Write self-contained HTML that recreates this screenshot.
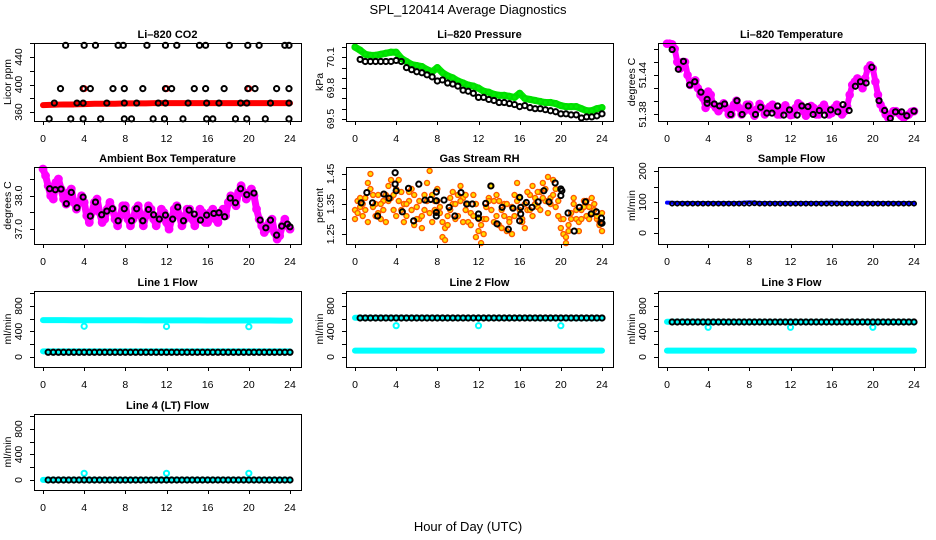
<!DOCTYPE html>
<html><head><meta charset="utf-8"><style>
html,body{margin:0;padding:0;background:#fff;}
svg{display:block;font-family:"Liberation Sans",sans-serif;}
</style></head><body>
<svg id="chart" width="936" height="540" viewBox="0 0 936 540" xmlns="http://www.w3.org/2000/svg">
<text x="468" y="14" text-anchor="middle" font-size="13">SPL_120414  Average Diagnostics</text>
<text x="468" y="531" text-anchor="middle" font-size="13">Hour of Day (UTC)</text>
</svg>
<script>
// ---------- data ----------
const qHours = Array.from({length:97},(_,i)=>i/4);
const halfHours0 = Array.from({length:49},(_,i)=>i/2);
const halfHours = Array.from({length:48},(_,i)=>0.5+i/2);
const hourly = Array.from({length:25},(_,i)=>i);
const xTicks = [0,4,8,12,16,20,24];

// CO2
const co2BlackHours = [2.2,4,5.1,7.3,7.8,10.1,11.9,13,15.2,15.8,18.1,19.9,21,23.5,23.9,
 1.7,3.9,4.6,6.8,7.9,9.7,11.9,12.5,14.7,15.8,17.6,19.9,20.6,22.7,23.9,
 1.1,3.3,3.9,6.2,7.9,9.1,11.2,11.9,14.1,15.9,17.1,19.2,19.8,22.1,23.9,
 0.6,2.7,3.9,5.6,7.9,8.6,10.7,11.8,13.6,15.9,16.5,18.7,19.8,21.6,23.9];
const co2BlackValues = [457,457,457,457,457,457,457,457,457,457,457,457,457,457,457,
 394,394,394,394,394,394,394,394,394,394,394,394,394,394,394,
 373,373,373,373,373,373,373,373,373,373,373,373,373,373,373,
 350,350,350,350,350,350,350,350,350,350,350,350,350,350,350];
const co2RedValues = [370,370.5,371,371,371.5,372,372,372,372.5,372.5,372.5,373,373,373,373,373,373,373,373,373,373,373,373,373,373];
const co2SpikeHours = [4,12,20];
const co2SpikeValues = [394,394,394];

// Pressure
const presGreen = [70.20,70.17,70.13,70.12,70.12,70.13,70.14,70.15,70.15,70.09,70.06,70.03,70.02,70.01,69.98,69.96,70.0,69.95,69.92,69.9,69.87,69.85,69.83,69.82,69.80,69.77,69.76,69.74,69.73,69.73,69.72,69.71,69.75,69.7,69.69,69.68,69.67,69.66,69.66,69.65,69.63,69.62,69.62,69.62,69.6,69.58,69.58,69.6,69.61];
const presBlack = [70.08,70.06,70.06,70.06,70.06,70.06,70.06,70.07,70.06,70.0,69.98,69.96,69.95,69.93,69.91,69.87,69.88,69.85,69.84,69.82,69.78,69.77,69.75,69.71,69.71,69.69,69.68,69.66,69.66,69.65,69.64,69.62,69.63,69.61,69.6,69.6,69.59,69.58,69.57,69.55,69.55,69.54,69.54,69.51,69.52,69.52,69.53,69.55];

// Li-820 temperature
const ltMagenta = [51.488,51.488,51.487,51.48,51.46,51.45,51.46,51.46,51.44,51.425,51.43,51.432,51.42,51.41,51.405,51.39,51.415,51.41,51.395,51.39,51.385,51.39,51.397,51.39,51.38,51.38,51.395,51.401,51.39,51.38,51.385,51.395,51.395,51.385,51.378,51.388,51.396,51.39,51.38,51.384,51.392,51.395,51.387,51.38,51.38,51.39,51.394,51.386,51.379,51.38,51.39,51.397,51.394,51.385,51.378,51.386,51.393,51.39,51.38,51.38,51.39,51.395,51.388,51.38,51.382,51.39,51.395,51.388,51.38,51.385,51.392,51.41,51.425,51.43,51.435,51.43,51.42,51.435,51.45,51.455,51.45,51.43,51.41,51.395,51.388,51.38,51.375,51.38,51.385,51.385,51.382,51.378,51.375,51.378,51.38,51.384,51.385];
const ltBlackHours = [0.5,1.1,1.6,2.2,2.7,3.3,3.9,3.9,4.6,5.1,5.6,6.2,6.8,7.3,7.9,8.6,9.1,9.7,10.2,10.75,11.35,11.9,12.65,13.1,13.7,14.2,14.8,15.3,15.9,16.6,17.1,17.7,18.3,18.8,19.35,19.9,20.6,21.15,21.7,22.2,22.8,23.3,24];
const ltBlackValues = [51.479,51.449,51.461,51.425,51.43,51.414,51.403,51.397,51.396,51.393,51.396,51.38,51.401,51.38,51.393,51.38,51.391,51.382,51.382,51.393,51.379,51.387,51.379,51.393,51.392,51.38,51.386,51.379,51.387,51.384,51.395,51.386,51.423,51.43,51.428,51.452,51.401,51.386,51.374,51.384,51.384,51.378,51.385];

// Ambient box temperature
const ambMagenta = [38.8,38.6,38.3,38.0,37.9,38.4,38.5,38.2,37.9,37.75,38.1,38.2,37.8,37.6,37.8,38.0,37.8,37.4,37.2,37.5,37.8,37.9,37.5,37.2,37.3,37.6,37.8,37.6,37.3,37.1,37.4,37.7,37.7,37.3,37.1,37.3,37.6,37.7,37.4,37.1,37.4,37.7,37.6,37.3,37.1,37.3,37.6,37.5,37.2,37.0,37.3,37.6,37.7,37.4,37.1,37.3,37.6,37.6,37.3,37.1,37.3,37.6,37.5,37.2,37.2,37.5,37.6,37.3,37.2,37.5,37.6,37.4,37.8,38.0,37.8,37.7,38.1,38.3,38.1,37.9,38.0,38.2,38.0,37.6,37.3,37.1,36.9,37.0,37.2,37.3,36.9,36.7,36.8,37.1,37.3,37.1,37.0];
const ambBlackHours = [0.65,1.2,1.75,2.27,2.75,3.3,3.9,4.6,5.1,5.7,6.2,6.75,7.3,7.9,8.6,9.1,9.7,10.25,10.75,11.3,11.9,12.6,13.1,13.65,14.2,14.7,15.3,15.9,16.6,17.1,17.65,18.2,18.7,19.2,19.8,20.5,21.1,21.65,22.1,22.7,23.2,23.75,24];
const ambBlackValues = [38.21,38.18,38.2,37.76,38.1,37.64,37.96,37.39,37.81,37.43,37.54,37.61,37.25,37.61,37.25,37.61,37.25,37.59,37.43,37.3,37.42,37.3,37.66,37.25,37.57,37.45,37.27,37.42,37.47,37.49,37.37,37.93,37.79,38.21,38.03,38.08,37.27,37.04,37.27,36.82,37.09,37.15,37.07];

// Gas stream RH
const rhA = [1.33,1.36,1.34,1.31,1.37,1.42,1.45,1.38,1.35,1.32,1.30,1.36,1.38,1.41,1.37,1.33,1.40,1.43,1.39,1.35,1.31,1.36,1.40,1.38,1.34,1.30,1.27,1.33,1.42,1.46,1.38,1.33,1.36,1.34,1.24,1.27,1.31,1.37,1.35,1.30,1.38,1.41,1.37,1.33,1.29,1.32,1.38,1.35,1.26,1.22,1.30,1.34,1.37,1.41,1.36,1.31,1.28,1.33,1.35,1.26,1.30,1.34,1.38,1.42,1.37,1.30,1.27,1.33,1.38,1.41,1.37,1.34,1.39,1.42,1.36,1.32,1.37,1.43,1.40,1.36,1.30,1.25,1.22,1.28,1.32,1.35,1.30,1.26,1.33,1.36,1.31,1.34,1.37,1.33,1.30,1.29,1.32];
const rhB = [1.30,1.32,1.37,1.35,1.33,1.29,1.40,1.34,1.31,1.38,1.35,1.33,1.29,1.36,1.43,1.38,1.31,1.36,1.33,1.29,1.35,1.39,1.33,1.28,1.30,1.36,1.31,1.38,1.36,1.32,1.29,1.36,1.40,1.32,1.29,1.23,1.28,1.33,1.39,1.35,1.31,1.36,1.29,1.38,1.35,1.28,1.31,1.24,1.30,1.28,1.25,1.30,1.36,1.33,1.29,1.38,1.36,1.27,1.31,1.35,1.29,1.25,1.31,1.36,1.33,1.29,1.35,1.39,1.33,1.31,1.35,1.39,1.33,1.37,1.40,1.44,1.35,1.38,1.34,1.31,1.27,1.30,1.24,1.26,1.30,1.37,1.33,1.29,1.30,1.34,1.36,1.30,1.32,1.35,1.31,1.28,1.26];
const rhBlackHours = [0.6,1.15,1.7,2.2,2.8,3.3,3.9,3.9,4.0,4.6,5.2,5.7,6.2,6.8,7.35,7.9,7.9,7.9,7.9,8.65,9.15,9.7,10.3,10.85,11.4,12,12,12.7,13.2,13.8,14.3,14.9,15.35,16,16,16.1,16.1,16.65,17.2,17.8,18.35,18.85,19.45,20,20,20.1,20.7,21.3,21.8,22.4,22.95,23.45,23.95,24,23.9];
const rhBlackValues = [1.354,1.388,1.354,1.31,1.383,1.369,1.454,1.416,1.394,1.324,1.402,1.294,1.416,1.363,1.365,1.361,1.322,1.31,1.39,1.363,1.339,1.31,1.388,1.35,1.35,1.317,1.303,1.352,1.41,1.284,1.339,1.266,1.336,1.294,1.372,1.317,1.339,1.355,1.339,1.357,1.394,1.357,1.42,1.4,1.378,1.394,1.32,1.26,1.339,1.357,1.317,1.324,1.303,1.286,1.288];

// Sample flow
const sfBlue = [98,97,97,97,97,97,97,97,99,97,97,97,97,97,97,97,98,97,97,97,97,97,97,97,97];
const sfBlack = [95,95,95,95,95,95,95,95,95,95,95,95,95,95,95,95,96,95,95,95,95,95,95,95,95,95,95,95,95,95,95,95,95,95,95,95,95,95,95,95,95,95,95,95,95,95,95,95];

// Line flows
const spikeHours = [4,12,20];
const l1CyanHigh = [578,578,578,577,577,577,577,576,576,576,575,575,575,574,574,574,573,573,573,572,572,572,572,571,571];
const l1CyanLow = [89,89,89,89,89,89,89,89,89,89,89,89,89,89,89,89,89,89,89,89,89,89,89,89,89];
const l1Spikes = [482,478,475];
const l1Black = [74,74,74,74,74,74,74,74,74,74,74,74,74,74,74,74,74,74,74,74,74,74,74,74,74,74,74,74,74,74,74,74,74,74,74,74,74,74,74,74,74,74,74,74,74,74,74,74];
const l2CyanHigh = [615,614,614,614,614,613,613,613,613,612,612,612,612,612,611,611,611,611,610,610,610,610,610,610,610];
const l2CyanLow = [99,99,99,99,99,99,99,99,99,99,99,99,99,99,99,99,99,99,99,99,99,99,99,99,99];
const l2Spikes = [491,491,491];
const l2Black = [612,612,612,612,612,612,612,612,612,612,612,612,612,612,612,612,612,612,612,612,612,612,612,612,612,612,612,612,612,612,612,612,612,612,612,612,612,612,612,612,612,612,612,612,612,612,612,612];
const l3CyanHigh = [552,552,552,552,551,551,551,551,551,550,550,550,550,550,550,550,550,550,550,550,550,550,550,550,550];
const l3CyanLow = [99,99,99,99,99,99,99,99,99,99,99,99,99,99,99,99,99,99,99,99,99,99,99,99,99];
const l3Spikes = [466,466,466];
const l3Black = [549,549,549,549,549,549,549,549,549,549,549,549,549,549,549,549,549,549,549,549,549,549,549,549,549,549,549,549,549,549,549,549,549,549,549,549,549,549,549,549,549,549,549,549,549,549,549,549];
const l4CyanLow = [2,2,2,2,2,2,2,2,2,2,2,2,2,2,2,2,2,2,2,2,2,2,2,2,2];
const l4Spikes = [105,105,105];
const l4Black = [0,0,0,0,0,0,0,0,0,0,0,0,0,0,0,0,0,0,0,0,0,0,0,0,0,0,0,0,0,0,0,0,0,0,0,0,0,0,0,0,0,0,0,0,0,0,0,0];

// ---------- drawing ----------
const NS = "http://www.w3.org/2000/svg";
const svg = document.getElementById('chart');
const rowTop = [43,167,291,414], rowBot = [121,244,367,490];
function el(tag, parent){ const e=document.createElementNS(NS,tag); parent.appendChild(e); return e; }

function panel(col,row,name,title,ylab,ymin,ymax,ticks,labels){
  const g = el('g',svg);
  
  
  const L = col*312+34, R = L+267, T = rowTop[row], B = rowBot[row];
  const x = t => L+9+t*(247/24);
  const y = v => B-(v-ymin)/(ymax-ymin)*(B-T);
  const plot = el('g',g);
  
  
  const box = el('rect',g);
  
  
  box.setAttribute('x',L+0.5); box.setAttribute('y',T+0.5);
  box.setAttribute('width',R-L); box.setAttribute('height',B-T);
  box.setAttribute('fill','none'); box.setAttribute('stroke','#000');
  const tt = el('text',g);
  
  
  tt.setAttribute('x',(L+R)/2); tt.setAttribute('y',T-5);
  tt.setAttribute('text-anchor','middle'); tt.setAttribute('font-size','11'); tt.setAttribute('font-weight','bold');
  tt.textContent = title;
  const yl = el('text',g);
  
  
  const yc=(T+B)/2, xl=col*312+11;
  yl.setAttribute('transform','translate('+xl+','+yc+') rotate(-90)');
  yl.setAttribute('text-anchor','middle'); yl.setAttribute('font-size','10.5');
  yl.textContent = ylab;
  ticks.forEach(v=>{
    const tk = el('line',g);
    
    
    const yy = Math.round(y(v))+0.5;
    tk.setAttribute('x1',L-4); tk.setAttribute('x2',L); tk.setAttribute('y1',yy); tk.setAttribute('y2',yy);
    tk.setAttribute('stroke','#000');
  });
  labels.forEach(v=>{
    const lb = el('text',g);
    
    
    lb.setAttribute('transform','translate('+(L-12)+','+y(v)+') rotate(-90)');
    lb.setAttribute('text-anchor','middle'); lb.setAttribute('font-size','10.5');
    lb.textContent = String(v);
  });
  xTicks.forEach(t=>{
    const tk = el('line',g);
    
    
    const xx = Math.round(x(t))+0.5;
    tk.setAttribute('x1',xx); tk.setAttribute('x2',xx); tk.setAttribute('y1',B); tk.setAttribute('y2',B+4);
    tk.setAttribute('stroke','#000');
    const lb = el('text',g);
    
    
    lb.setAttribute('x',x(t)); lb.setAttribute('y',B+21);
    lb.setAttribute('text-anchor','middle'); lb.setAttribute('font-size','10.5');
    lb.textContent = String(t);
  });
  return {x,y,plot};
}

function points(p, hours, vals, color, name, r, sw, fill){
  const n = Math.min(hours.length, vals.length);
  for(let i=0;i<n;i++){
    const c = el('circle',p.plot);
    
    
    c.setAttribute('cx',p.x(hours[i])); c.setAttribute('cy',p.y(vals[i]));
    c.setAttribute('r',r); c.setAttribute('fill',fill||'none');
    c.setAttribute('stroke',color); c.setAttribute('stroke-width',sw);
  }
}
function band(p, hours, vals, color, name, w){
  const n = Math.min(hours.length, vals.length);
  const pl = el('polyline',p.plot);
  
  
  let pts=[]; for(let i=0;i<n;i++) pts.push(p.x(hours[i])+','+p.y(vals[i]));
  pl.setAttribute('points',pts.join(' '));
  pl.setAttribute('fill','none'); pl.setAttribute('stroke',color);
  pl.setAttribute('stroke-width',w); pl.setAttribute('stroke-linecap','round'); pl.setAttribute('stroke-linejoin','round');
}

const BK='#000', BW=2, BR=2.6;

// Panel 1 CO2
let p = panel(0,0,'co2','Li\u2013820 CO2','Licor ppm',346.9,460.4,[360,380,400,420,440,460],[360,400,440]);
band(p,hourly,co2RedValues,'#ff0000','co2-red-series',6);
points(p,co2SpikeHours,co2SpikeValues,'#ff0000','co2-red-outlier',2.5,2);
points(p,co2BlackHours,co2BlackValues,BK,'co2-black-point',BR,BW);

// Panel 2 pressure
p = panel(1,0,'pressure','Li\u2013820 Pressure','kPa',69.48,70.24,[69.5,69.6,69.7,69.8,69.9,70.0,70.1,70.2],['69.5','69.8','70.1']);
band(p,halfHours0,presGreen,'#00ee00','pressure-green-band',7);
points(p,halfHours0,presGreen,'#00dd00','pressure-green-point',2.6,2);
points(p,halfHours,presBlack,BK,'pressure-black-point',BR,BW);

// Panel 3 Li temp
p = panel(2,0,'li-temp','Li\u2013820 Temperature','degrees C',51.37,51.489,[51.38,51.40,51.42,51.44,51.46,51.48],['51.38','51.44']);
band(p,qHours,ltMagenta,'#ff00ff','li-temp-magenta-band',6);
points(p,qHours,ltMagenta,'#ff00ff','li-temp-magenta-point',3,2.6);
points(p,ltBlackHours,ltBlackValues,BK,'li-temp-black-point',BR,BW);

// Panel 4 ambient
p = panel(0,1,'ambient','Ambient Box Temperature','degrees C',36.555,38.86,[37.0,37.5,38.0,38.5],['37.0','38.0']);
band(p,qHours,ambMagenta,'#ff00ff','ambient-magenta-band',7);
points(p,qHours,ambMagenta,'#ff00ff','ambient-magenta-point',3,2.8);
points(p,ambBlackHours,ambBlackValues,BK,'ambient-black-point',BR,BW);

// Panel 5 RH
p = panel(1,1,'rh','Gas Stream RH','percent',1.217,1.473,[1.25,1.30,1.35,1.40,1.45],['1.25','1.35','1.45']);
points(p,qHours,rhA,'#ff5a00','rh-orange-point',2.5,1.4,'#ffdd00');
points(p,qHours,rhB,'#ff5a00','rh-orange-point',2.5,1.4,'#ffdd00');
points(p,rhBlackHours,rhBlackValues,BK,'rh-black-point',BR,BW);

// Panel 6 sample flow
p = panel(2,1,'sample-flow','Sample Flow','ml/min',-35.5,213,[0,50,100,150,200],[0,100,200]);
band(p,hourly,sfBlue,'#0000ff','sample-flow-blue-band',4);
points(p,halfHours,sfBlack,BK,'sample-flow-black-point',2.2,1.6);

// Flow panels
const fMin=-157, fMax=1035, fT=[0,200,400,600,800,1000], fL=[0,400,800];
function flowPanel(col,row,name,title,hi,lo,sp,blk){
  const q = panel(col,row,name,title,'ml/min',fMin,fMax,fT,fL);
  if(hi) band(q,hourly,hi,'#00ffff',name+'-cyan-high-band',6);
  band(q,hourly,lo,'#00ffff',name+'-cyan-low-band',6);
  points(q,spikeHours,sp,'#00ffff',name+'-cyan-outlier',2.6,2);
  points(q,halfHours,blk,BK,name+'-black-point',BR,BW);
}
flowPanel(0,2,'line1-flow','Line 1 Flow',l1CyanHigh,l1CyanLow,l1Spikes,l1Black);
flowPanel(1,2,'line2-flow','Line 2 Flow',l2CyanHigh,l2CyanLow,l2Spikes,l2Black);
flowPanel(2,2,'line3-flow','Line 3 Flow',l3CyanHigh,l3CyanLow,l3Spikes,l3Black);
flowPanel(0,3,'line4-flow','Line 4 (LT) Flow',null,l4CyanLow,l4Spikes,l4Black);
</script>
</body></html>
